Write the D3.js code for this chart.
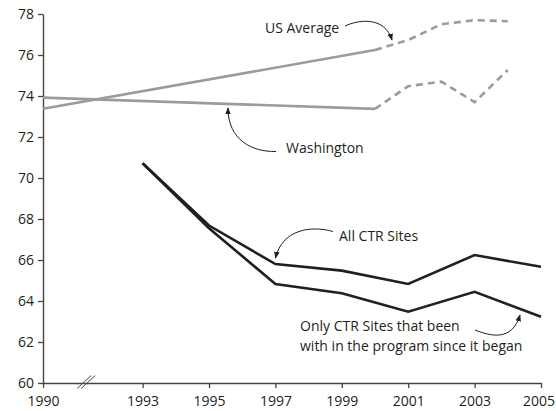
<!DOCTYPE html>
<html>
<head>
<meta charset="utf-8">
<script src="https://cdn.jsdelivr.net/npm/d3@7"></script>
<style>
  html, body { margin: 0; padding: 0; background: #fff; }
  svg { display: block; }
  text { font-family: "Open Sans", "DejaVu Sans", sans-serif; fill: #231f20; }
</style>
</head>
<body>
<svg id="chart" width="556" height="411"></svg>
<script>
// ---- Data ----
const usYearsSolid = [1990, 2000];
const usValuesSolid = [73.38, 76.24];
const usYearsDashed = [2000, 2001, 2002, 2003, 2004];
const usValuesDashed = [76.24, 76.73, 77.5, 77.7, 77.65];

const waYearsSolid = [1990, 2000];
const waValuesSolid = [73.92, 73.37];
const waYearsDashed = [2000, 2001, 2002, 2003, 2004];
const waValuesDashed = [73.37, 74.48, 74.7, 73.7, 75.27];

const ctrYears = [1993, 1995, 1997, 1999, 2001, 2003, 2005];
const allCtrValues = [70.72, 67.68, 65.8, 65.48, 64.83, 66.24, 65.67];
const onlyCtrValues = [70.72, 67.55, 64.83, 64.38, 63.48, 64.45, 63.23];

const yTicks = [60, 62, 64, 66, 68, 70, 72, 74, 76, 78];
const xTicks = [1990, 1993, 1995, 1997, 1999, 2001, 2003, 2005];

const labels = {
  us: "US Average",
  wa: "Washington",
  all: "All CTR Sites",
  only1: "Only CTR Sites that been",
  only2: "with in the program since it began"
};

// ---- Chart ----
const svg = d3.select("#chart");
const x = d3.scaleLinear().domain([1990, 2005]).range([43, 541]);
const y = d3.scaleLinear().domain([60, 78]).range([383, 14]);

const zip = (xs, ys) => xs.map((d, i) => [d, ys[i]]);
const line = d3.line().x(d => x(d[0])).y(d => y(d[1]));

const grey = "#9b9b9b";
const black = "#231f20";

// Axes
const yAxis = svg.append("g")
  .attr("transform", `translate(${x(1990)},0)`)
  .call(d3.axisLeft(y).tickValues(yTicks).tickSize(5).tickSizeOuter(0).tickPadding(4).tickFormat(d3.format("d")));
const xAxis = svg.append("g")
  .attr("transform", `translate(0,${y(60)})`)
  .call(d3.axisBottom(x).tickValues(xTicks).tickSize(5).tickSizeOuter(0).tickPadding(8).tickFormat(d3.format("d")));

[yAxis, xAxis].forEach(g => {
  g.selectAll("path.domain").attr("stroke", "#444").attr("stroke-width", 1.4);
  g.selectAll(".tick line").attr("stroke", "#444").attr("stroke-width", 1.3);
  g.selectAll(".tick text").style("font-family", '"Open Sans", sans-serif').style("font-size", "14px").attr("fill", "#231f20");
});
// keep the last year label inside the window
xAxis.selectAll(".tick text").filter(d => d === 2005).attr("dx", -2.5);

// Axis break marks
const bx = x(1991.3), by = y(60);
[-2, 2].forEach(off => {
  svg.append("line")
    .attr("x1", bx + off - 7).attr("y1", by + 5.5)
    .attr("x2", bx + off + 7).attr("y2", by - 7.5)
    .attr("stroke", "#444").attr("stroke-width", 1);
});

// Lines
function drawLine(data, color, dashed) {
  svg.append("path")
    .datum(data)
    .attr("d", line)
    .attr("fill", "none")
    .attr("stroke", color)
    .attr("stroke-width", 2.6)
    .attr("stroke-linejoin", "miter")
    .attr("stroke-dasharray", dashed ? "7,5" : null);
}
drawLine(zip(usYearsSolid, usValuesSolid), grey, false);
drawLine(zip(usYearsDashed, usValuesDashed), grey, true);
drawLine(zip(waYearsSolid, waValuesSolid), grey, false);
drawLine(zip(waYearsDashed, waValuesDashed), grey, true);
drawLine(zip(ctrYears, allCtrValues), black, false);
drawLine(zip(ctrYears, onlyCtrValues), black, false);

// Arrowhead marker
svg.append("defs").append("marker")
  .attr("id", "ah")
  .attr("viewBox", "0 0 10 10")
  .attr("refX", 9).attr("refY", 5)
  .attr("markerWidth", 7).attr("markerHeight", 7)
  .attr("markerUnits", "userSpaceOnUse")
  .attr("orient", "auto")
  .append("path").attr("d", "M0,1 L10,5 L0,9 z").attr("fill", black);

function arrow(d) {
  svg.append("path").attr("d", d)
    .attr("fill", "none").attr("stroke", black).attr("stroke-width", 1)
    .attr("marker-end", "url(#ah)");
}

// Annotations
const fs = "14px";
svg.append("text").attr("x", 265).attr("y", 33).style("font-size", fs).text(labels.us);
arrow("M345,26 C360,19 385,17 392,40");

svg.append("text").attr("x", 286).attr("y", 153).style("font-size", fs).text(labels.wa);
arrow("M276,151.5 C252,152 228,140 228,108");

svg.append("text").attr("x", 339).attr("y", 241).style("font-size", fs).text(labels.all);
arrow("M333,231.5 C310,225 282,230 275.5,258");

svg.append("text").attr("x", 300).attr("y", 331).style("font-size", fs).text(labels.only1);
svg.append("text").attr("x", 300).attr("y", 351).style("font-size", fs).text(labels.only2);
arrow("M475,330 C490,336 512,342 520,315");
</script>
</body>
</html>
